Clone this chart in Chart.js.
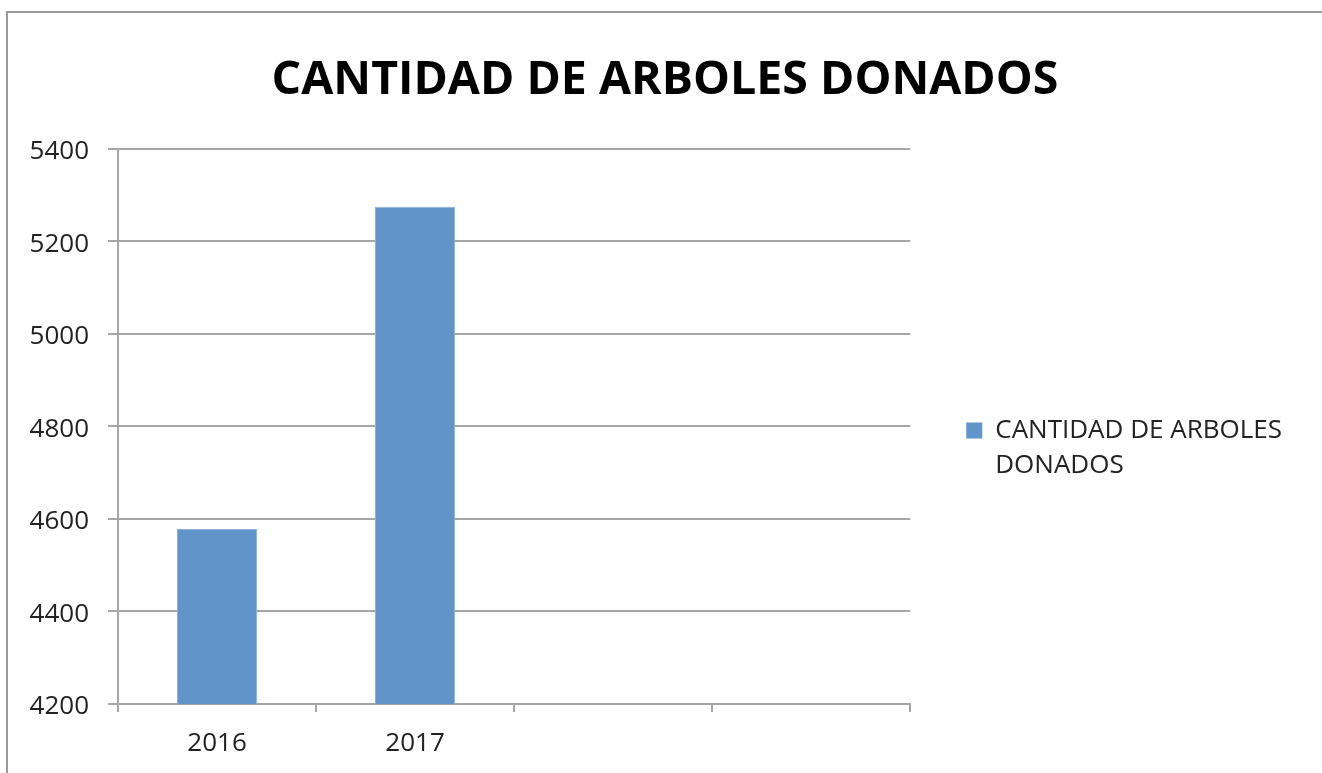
<!DOCTYPE html>
<html>
<head>
<meta charset="utf-8">
<script src="https://cdn.jsdelivr.net/npm/chart.js@4"></script>
<style>
html, body { margin: 0; padding: 0; background: #fff; }
#wrap { position: relative; width: 1322px; height: 773px; overflow: hidden; }
#frame { position: absolute; left: 6px; top: 11px; width: 1400px; height: 900px;
  border-left: 2px solid #9a9a9a; border-top: 2px solid #9a9a9a; }
#c { position: absolute; left: 0; top: 0; }
</style>
</head>
<body>
<div id="wrap">
<div id="frame"></div>
<canvas id="c" width="1322" height="773"></canvas>
</div>
<script>
var years = ['2016', '2017', '', ''];
var arboles = [4578, 5275, null, null];
var yTicks = [4200, 4400, 4600, 4800, 5000, 5200, 5400];
var serieLabel = 'CANTIDAD DE ARBOLES DONADOS';
var legendLines = ['CANTIDAD DE ARBOLES', 'DONADOS'];

var fuente = "'Open Sans', 'Noto Sans', sans-serif";

// the title is centred on the whole frame, not between the paddings
var tituloCentrado = {
	id: 'tituloCentrado',
	afterLayout: function(ch) {
		var t = ch.titleBlock;
		t.left = 8;
		t.right = ch.width;
	}
};

var chart = new Chart(document.getElementById('c'), {
	type: 'bar',
	data: {
		labels: years,
		datasets: [{
			label: serieLabel,
			data: arboles,
			backgroundColor: '#6194c8',
			borderColor: '#8db1da',
			borderWidth: 1,
			categoryPercentage: 1,
			barPercentage: 0.405
		}]
	},
	options: {
		responsive: false,
		animation: false,
		layout: { padding: { left: 8, right: 30, top: 0, bottom: 0 } },
		plugins: {
			title: {
				display: true,
				text: 'CANTIDAD DE ARBOLES DONADOS',
				color: '#000',
				font: { family: fuente, size: 46.5, weight: 'bold', lineHeight: 1.2 },
				padding: { top: 53, bottom: 40 }
			},
			legend: {
				position: 'right',
				maxWidth: 412,
				// empty title only pushes the legend entry down
				title: { display: true, text: ' ', font: { size: 10, lineHeight: 1 }, padding: { top: 122, bottom: 0 } },
				labels: {
					color: '#222',
					font: { family: fuente, size: 26, lineHeight: 1.35 },
					boxWidth: 16,
					boxHeight: 16,
					padding: 56,
					generateLabels: function(ch) {
						var ds = ch.data.datasets[0];
						return [{
							text: legendLines,
							fillStyle: ds.backgroundColor,
							strokeStyle: ds.backgroundColor,
							fontColor: '#222',
							lineWidth: 0,
							datasetIndex: 0
						}];
					}
				}
			},
			tooltip: { enabled: false }
		},
		scales: {
			x: {
				offset: true,
				grid: { offset: true, drawOnChartArea: false, drawTicks: true, tickLength: 8, color: '#a6a6a6', lineWidth: 2 },
				border: { color: '#a6a6a6', width: 2 },
				ticks: { color: '#222', font: { family: fuente, size: 26 }, padding: 16 },
				afterFit: function(s) { s.height = 69; }
			},
			y: {
				min: 4200,
				max: 5400,
				afterBuildTicks: function(s) { s.ticks = yTicks.map(function(v) { return { value: v }; }); },
				grid: { color: '#a6a6a6', lineWidth: 2, tickLength: 10 },
				border: { color: '#a6a6a6', width: 2 },
				ticks: {
					color: '#222',
					font: { family: fuente, size: 26 },
					padding: 19,
					labelOffset: 3,
					callback: function(v) { return String(v); }
				},
				afterFit: function(s) { s.width = 110; }
			}
		}
	},
	plugins: [tituloCentrado]
});
</script>
</body>
</html>
